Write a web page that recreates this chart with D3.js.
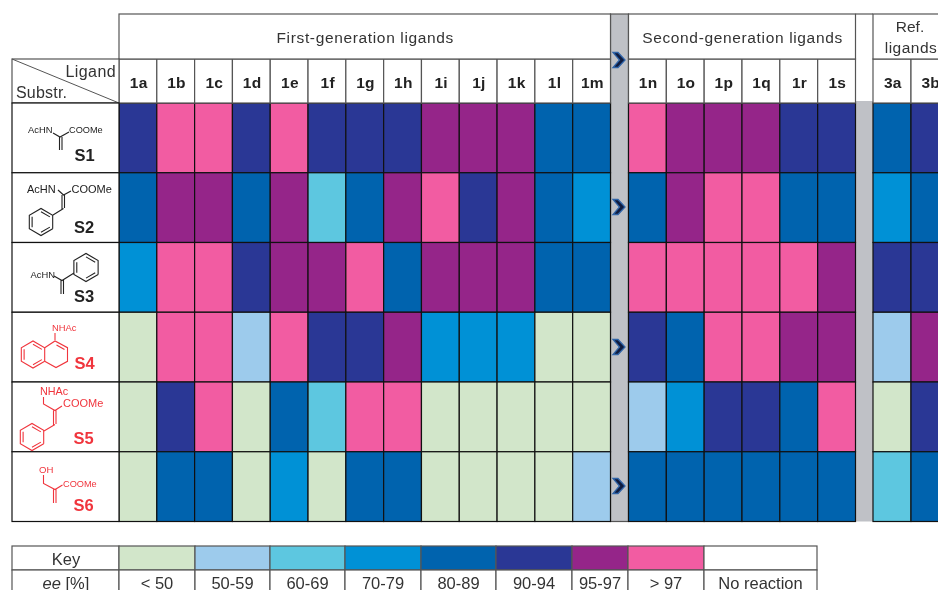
<!DOCTYPE html>
<html>
<head>
<meta charset="utf-8">
<script src="https://cdn.jsdelivr.net/npm/d3@7"></script>
<style>
	html, body { margin: 0; padding: 0; background: #fff; overflow: hidden; }
	text { font-family: "Liberation Sans", Arial, sans-serif; }
	svg { filter: blur(0.35px); }
</style>
</head>
<body>
<script>
const firstGen = ["1a", "1b", "1c", "1d", "1e", "1f", "1g", "1h", "1i", "1j", "1k", "1l", "1m"];
const secondGen = ["1n", "1o", "1p", "1q", "1r", "1s"];
const refLigands = ["3a", "3b"];
const substrates = ["S1", "S2", "S3", "S4", "S5", "S6"];

// ee class per ligand, as an index into eeLabels
const eeS1 = [5, 7, 7, 5, 7, 5, 5, 5, 6, 6, 6, 4, 4, 7, 6, 6, 6, 5, 5, 4, 5];
const eeS2 = [4, 6, 6, 4, 6, 2, 4, 6, 7, 5, 6, 4, 3, 4, 6, 7, 7, 4, 4, 3, 4];
const eeS3 = [3, 7, 7, 5, 6, 6, 7, 4, 6, 6, 6, 4, 4, 7, 7, 7, 7, 7, 6, 5, 5];
const eeS4 = [0, 7, 7, 1, 7, 5, 5, 6, 3, 3, 3, 0, 0, 5, 4, 7, 7, 6, 6, 1, 6];
const eeS5 = [0, 5, 7, 0, 4, 2, 7, 7, 0, 0, 0, 0, 0, 1, 3, 5, 5, 4, 7, 0, 5];
const eeS6 = [0, 4, 4, 0, 3, 0, 4, 4, 0, 0, 0, 0, 1, 4, 4, 4, 4, 4, 4, 2, 4];
const eeRows = [eeS1, eeS2, eeS3, eeS4, eeS5, eeS6];

const eeLabels = ["< 50", "50-59", "60-69", "70-79", "80-89", "90-94", "95-97", "> 97", "No reaction"];
const eeColors = ["#d2e6ca", "#9dcbec", "#5dc7e0", "#0091d6", "#0063ae", "#2a3795", "#952589", "#f25ca2", "#ffffff"];
const keyEdges = [119, 195, 270, 345, 421, 496, 572, 628, 704, 817];

const black = "#111";
const frame = "#555";
const barGray = "#bfc1c6";
const molRed = "#f0353d";

const width = 938;
const height = 590;

const svg = d3.select("body")
	.append("svg")
	.attr("width", width)
	.attr("height", height)
	.attr("viewBox", `0 0 ${width} ${height}`)
	.style("display", "block");

const color = d3.scaleOrdinal(d3.range(eeLabels.length), eeColors);

const xFirst = d3.scaleBand(firstGen, [119, 610.5]);
const xSecond = d3.scaleBand(secondGen, [628.5, 855.5]);
const xRef = d3.scaleBand(refLigands, [873, 949]);
const groups = [xFirst, xSecond, xRef];

const allLigands = firstGen.concat(secondGen, refLigands);
const xOf = (lig) => groups.find((g) => g.domain().includes(lig));

const y = d3.scaleBand(substrates, [103, 521.5]);

const topY = 14;
const headY = 59;
const labelX = 12;

// gray separators
svg.append("rect").attr("x", 610.5).attr("y", topY).attr("width", 18).attr("height", 507.5)
	.attr("fill", barGray).attr("stroke", frame).attr("stroke-width", 1.2);
svg.append("rect").attr("x", 855.5).attr("y", 101).attr("width", 17.5).attr("height", 420.5)
	.attr("fill", barGray);

// heat cells
substrates.forEach((s, r) => {
	svg.append("g")
		.selectAll("rect")
		.data(eeRows[r])
		.join("rect")
		.attr("x", (d, i) => xOf(allLigands[i])(allLigands[i]))
		.attr("y", y(s))
		.attr("width", (d, i) => xOf(allLigands[i]).bandwidth())
		.attr("height", y.bandwidth())
		.attr("fill", (d) => color(d))
		.attr("stroke", black)
		.attr("stroke-width", 1.2);
});

// ligand header cells
svg.append("g")
	.selectAll("rect")
	.data(allLigands)
	.join("rect")
	.attr("x", (d) => xOf(d)(d))
	.attr("y", headY)
	.attr("width", (d) => xOf(d).bandwidth())
	.attr("height", 103 - headY)
	.attr("fill", "#fff")
	.attr("stroke", frame)
	.attr("stroke-width", 1.2);

svg.append("g")
	.selectAll("text")
	.data(allLigands)
	.join("text")
	.attr("x", (d) => xOf(d)(d) + xOf(d).bandwidth() / 2 + 0.8)
	.attr("y", 87.5)
	.attr("text-anchor", "middle")
	.attr("font-size", 15.5)
	.attr("font-weight", "bold")
	.attr("letter-spacing", 0.3)
	.attr("fill", "#222")
	.text((d) => d);

// group header boxes
const groupBoxes = [
	[xFirst, "First-generation ligands"],
	[xSecond, "Second-generation ligands"],
];
groupBoxes.forEach(([g, label]) => {
	const [x0, x1] = g.range();
	svg.append("rect").attr("x", x0).attr("y", topY).attr("width", x1 - x0).attr("height", headY - topY)
		.attr("fill", "#fff").attr("stroke", frame).attr("stroke-width", 1.2);
	svg.append("text")
		.attr("x", (x0 + x1) / 2 + 0.5)
		.attr("y", 43)
		.attr("text-anchor", "middle")
		.attr("font-size", 15.5)
		.attr("letter-spacing", 0.65)
		.attr("fill", "#333")
		.text(label);
});
svg.append("rect").attr("x", 873).attr("y", topY).attr("width", 76).attr("height", headY - topY)
	.attr("fill", "#fff").attr("stroke", frame).attr("stroke-width", 1.2);
svg.append("line").attr("x1", 855.5).attr("x2", 873).attr("y1", topY).attr("y2", topY)
	.attr("stroke", frame).attr("stroke-width", 1.2);
svg.append("text").attr("x", 910).attr("y", 32).attr("text-anchor", "middle")
	.attr("font-size", 15.5).attr("fill", "#333").text("Ref.");
svg.append("text").attr("x", 911).attr("y", 53).attr("text-anchor", "middle")
	.attr("font-size", 15.5).attr("letter-spacing", 0.5).attr("fill", "#333").text("ligands");

// corner cell
svg.append("rect").attr("x", labelX).attr("y", headY).attr("width", 107).attr("height", 103 - headY)
	.attr("fill", "#fff").attr("stroke", frame).attr("stroke-width", 1.2);
svg.append("line").attr("x1", labelX).attr("y1", headY).attr("x2", 119).attr("y2", 103)
	.attr("stroke", frame).attr("stroke-width", 1);
svg.append("text").attr("x", 116).attr("y", 77).attr("text-anchor", "end")
	.attr("font-size", 16).attr("letter-spacing", 0.4).attr("fill", "#333").text("Ligand");
svg.append("text").attr("x", 16).attr("y", 98)
	.attr("font-size", 16).attr("letter-spacing", 0.2).attr("fill", "#333").text("Substr.");

// substrate cells
svg.append("g")
	.selectAll("rect")
	.data(substrates)
	.join("rect")
	.attr("x", labelX)
	.attr("y", (d) => y(d))
	.attr("width", 107)
	.attr("height", y.bandwidth())
	.attr("fill", "#fff")
	.attr("stroke", black)
	.attr("stroke-width", 1.2);

// chevrons on the first gray bar
const chevronYs = [60, 207, 347, 486];
svg.append("g")
	.selectAll("path")
	.data(chevronYs)
	.join("path")
	.attr("transform", (d) => `translate(619,${d})`)
	.attr("d", "M-6,-7.5 L-1,-7.5 L6,0 L-1,7.5 L-6,7.5 L0.5,0 Z")
	.attr("fill", "#101c3f")
	.attr("stroke", "#2f64a8")
	.attr("stroke-width", 1.3);

// molecule sketches
const molLine = d3.line();

function bonds(g, strokeColor, lines) {
	g.append("path")
		.attr("d", lines.map((l) => molLine(l)).join(""))
		.attr("fill", "none")
		.attr("stroke", strokeColor)
		.attr("stroke-width", 1.1);
}

function ring(g, strokeColor, cx, cy, r, inner) {
	const pts = d3.range(6).map((i) => {
		const a = Math.PI / 6 + (i * Math.PI) / 3;
		return [cx + r * Math.cos(a), cy + r * Math.sin(a)];
	});
	const lines = [pts.concat([pts[0]])];
	inner.forEach((i) => {
		const p = pts[i];
		const q = pts[(i + 1) % 6];
		const k = 0.76;
		lines.push([
			[cx + (p[0] - cx) * k, cy + (p[1] - cy) * k],
			[cx + (q[0] - cx) * k, cy + (q[1] - cy) * k],
		]);
	});
	bonds(g, strokeColor, lines);
}

function molText(g, fill, x, yy, size, label) {
	g.append("text").attr("x", x).attr("y", yy).attr("font-size", size).attr("fill", fill).text(label);
}

function molName(g, fill, x, yy, label) {
	g.append("text").attr("x", x).attr("y", yy).attr("font-size", 16.5)
		.attr("font-weight", "bold").attr("fill", fill).text(label);
}

const s1 = svg.append("g");
molText(s1, "#222", 28, 133, 9.4, "AcHN");
molText(s1, "#222", 69, 133, 9.2, "COOMe");
bonds(s1, "#222", [[[53, 133], [60, 137], [69, 132]], [[59.5, 137], [59.5, 150]], [[62, 137], [62, 150]]]);
molName(s1, "#222", 74.5, 161, "S1");

const s2 = svg.append("g");
molText(s2, "#222", 27, 193, 11, "AcHN");
molText(s2, "#222", 71.5, 193, 11, "COOMe");
bonds(s2, "#222", [[[58, 190], [63.5, 195], [71, 191]], [[62, 195], [62, 210]], [[64.5, 195], [64.5, 208]], [[63.5, 208.5], [53, 215]]]);
ring(s2, "#222", 41, 222, 13.5, [0, 2, 4]);
molName(s2, "#222", 74, 233, "S2");

const s3 = svg.append("g");
molText(s3, "#222", 30.5, 277.5, 9.4, "AcHN");
bonds(s3, "#222", [[[54, 276], [62, 280.5], [74, 273]], [[61, 280], [61, 294]], [[63.5, 280], [63.5, 294]]]);
ring(s3, "#222", 86, 267.5, 14, [0, 2, 4]);
molName(s3, "#222", 74, 302, "S3");

const s4 = svg.append("g");
molText(s4, molRed, 52, 331, 9.4, "NHAc");
bonds(s4, molRed, [[[55, 333], [55, 340]]]);
ring(s4, molRed, 33, 354.5, 13.5, [2, 4, 0]);
bonds(s4, molRed, [[[44.7, 347.7], [55, 341], [67.5, 347.7], [67.5, 361.3], [56, 367.5], [44.7, 361.3]], [[56.5, 345], [64.5, 349.5]]]);
molName(s4, molRed, 74.5, 369, "S4");

const s5 = svg.append("g");
molText(s5, molRed, 40, 395, 10.8, "NHAc");
molText(s5, molRed, 63, 407, 11, "COOMe");
bonds(s5, molRed, [[[43.5, 397], [43.5, 404], [55, 410.5], [62, 406]], [[53.5, 410.5], [53.5, 425]], [[56, 410.5], [56, 424]], [[55, 424.5], [44, 431]]]);
ring(s5, molRed, 32, 437, 13.5, [0, 2, 4]);
molName(s5, molRed, 73.5, 444, "S5");

const s6 = svg.append("g");
molText(s6, molRed, 39, 473, 9.6, "OH");
molText(s6, molRed, 63, 487, 9.2, "COOMe");
bonds(s6, molRed, [[[43.5, 475], [43.5, 483.5], [55, 489.5], [62.5, 485]], [[53.5, 489.5], [53.5, 503]], [[56, 489.5], [56, 503]]]);
molName(s6, molRed, 73.5, 511, "S6");

// key table
const keyTop = 546;
const keyMid = 570;
const keyBottom = 594;

svg.append("rect").attr("x", labelX).attr("y", keyTop).attr("width", 107).attr("height", keyMid - keyTop)
	.attr("fill", "#fff").attr("stroke", frame).attr("stroke-width", 1.2);
svg.append("rect").attr("x", labelX).attr("y", keyMid).attr("width", 107).attr("height", keyBottom - keyMid)
	.attr("fill", "#fff").attr("stroke", frame).attr("stroke-width", 1.2);
svg.append("text").attr("x", 66).attr("y", 565).attr("text-anchor", "middle")
	.attr("font-size", 16.5).attr("fill", "#333").text("Key");
const eeLabel = svg.append("text").attr("x", 66).attr("y", 588.5).attr("text-anchor", "middle")
	.attr("font-size", 16.5).attr("fill", "#333");
eeLabel.append("tspan").attr("font-style", "italic").text("ee");
eeLabel.append("tspan").text(" [%]");

const keyCols = svg.append("g")
	.selectAll("g")
	.data(eeLabels)
	.join("g");

keyCols.append("rect")
	.attr("x", (d, i) => keyEdges[i])
	.attr("y", keyTop)
	.attr("width", (d, i) => keyEdges[i + 1] - keyEdges[i])
	.attr("height", keyMid - keyTop)
	.attr("fill", (d, i) => color(i))
	.attr("stroke", frame)
	.attr("stroke-width", 1.2);

keyCols.append("rect")
	.attr("x", (d, i) => keyEdges[i])
	.attr("y", keyMid)
	.attr("width", (d, i) => keyEdges[i + 1] - keyEdges[i])
	.attr("height", keyBottom - keyMid)
	.attr("fill", "#fff")
	.attr("stroke", frame)
	.attr("stroke-width", 1.2);

keyCols.append("text")
	.attr("x", (d, i) => (keyEdges[i] + keyEdges[i + 1]) / 2)
	.attr("y", 588.5)
	.attr("text-anchor", "middle")
	.attr("font-size", 16.5)
	.attr("fill", "#333")
	.text((d) => d);
</script>
</body>
</html>
